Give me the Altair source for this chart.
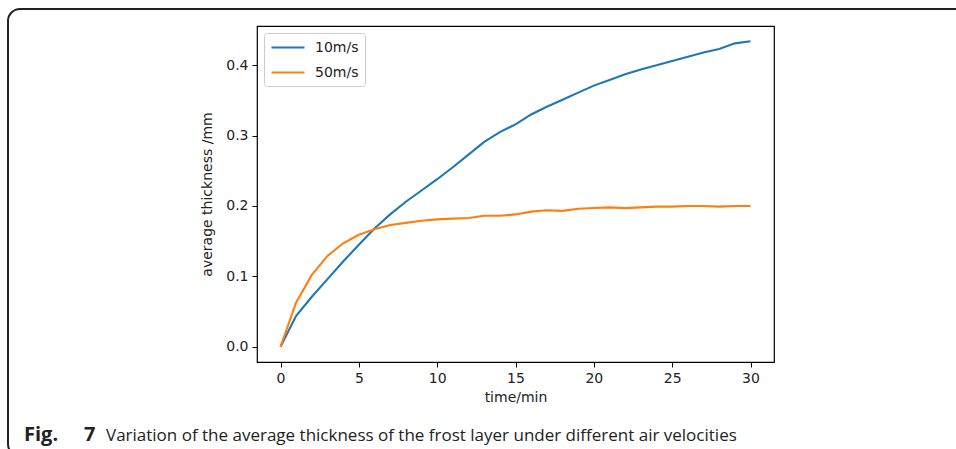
import altair as alt
import pandas as pd

# ---- data ----
time_min = list(range(31))
v10 = [0.000, 0.044, 0.071, 0.096, 0.121, 0.145, 0.168, 0.188, 0.206, 0.222,
       0.238, 0.255, 0.273, 0.291, 0.305, 0.316, 0.330, 0.341, 0.351, 0.361,
       0.371, 0.379, 0.387, 0.394, 0.400, 0.406, 0.412, 0.418, 0.423, 0.431,
       0.434]
v50 = [0.000, 0.063, 0.102, 0.129, 0.147, 0.159, 0.167, 0.173, 0.176, 0.179,
       0.181, 0.182, 0.183, 0.186, 0.186, 0.188, 0.192, 0.194, 0.193, 0.196,
       0.197, 0.198, 0.197, 0.198, 0.199, 0.199, 0.200, 0.200, 0.199, 0.200,
       0.200]
series_names = ["10m/s", "50m/s"]
series_colors = ["#1f77b4", "#ff7f0e"]
x_ticks = [0, 5, 10, 15, 20, 25, 30]
y_ticks = [0.0, 0.1, 0.2, 0.3, 0.4]
x_title = "time/min"
y_title = "average thickness /mm"
caption_label = ["Fig.", "7"]
caption_text = "Variation of the average thickness of the frost layer under different air velocities"

df = pd.DataFrame({
    "time": time_min * 2,
    "thickness": v10 + v50,
    "series": [series_names[0]] * len(v10) + [series_names[1]] * len(v50),
})

W, H = 517, 336
PL, PT = 257, 26

lines = alt.Chart(df).mark_line(strokeWidth=2.1).encode(
    x=alt.X("time:Q",
            scale=alt.Scale(domain=[-1.5, 31.5], nice=False, zero=False),
            axis=alt.Axis(values=x_ticks, title=x_title, format="d",
                          labelPadding=4, titlePadding=5)),
    y=alt.Y("thickness:Q",
            scale=alt.Scale(domain=[-0.0217, 0.4557], nice=False, zero=False),
            axis=alt.Axis(values=y_ticks, title=y_title, format=".1f",
                          labelPadding=4, titlePadding=11)),
    color=alt.Color("series:N",
                    scale=alt.Scale(domain=series_names, range=series_colors),
                    legend=alt.Legend(title=None, orient="none", legendX=7, legendY=7,
                                      symbolType="M-1,0L3.714,0", symbolSize=196,
                                      symbolStrokeWidth=2.1, rowPadding=9,
                                      labelFont="DejaVu Sans", labelFontSize=14,
                                      labelColor="#222", labelOffset=28,
                                      padding=6, strokeColor="#cccccc",
                                      fillColor="white", cornerRadius=3)),
)

frame = alt.Chart(pd.DataFrame({"d": [0]})).mark_rect(
    fillOpacity=0, stroke="#222", strokeWidth=2, cornerRadius=12
).encode(
    x=alt.value(8 - PL), x2=alt.value(980 - PL),
    y=alt.value(9 - PT), y2=alt.value(456 - PT),
)

cap_fig = alt.Chart(pd.DataFrame({"t": [caption_label[0]]})).mark_text(
    align="left", baseline="alphabetic", font="Open Sans", fontWeight="bold",
    fontSize=20, color="#222"
).encode(x=alt.value(24 - PL), y=alt.value(441 - PT), text="t:N")

cap_num = alt.Chart(pd.DataFrame({"t": [caption_label[1]]})).mark_text(
    align="left", baseline="alphabetic", font="Open Sans", fontWeight="bold",
    fontSize=20, color="#222"
).encode(x=alt.value(84 - PL), y=alt.value(441 - PT), text="t:N")

cap2 = alt.Chart(pd.DataFrame({"t": [caption_text]})).mark_text(
    align="left", baseline="alphabetic", font="Open Sans",
    fontSize=17, color="#222"
).encode(x=alt.value(106 - PL), y=alt.value(441 - PT), text="t:N")

chart = alt.layer(frame, lines, cap_fig, cap_num, cap2).properties(
    width=W, height=H,
    autosize=alt.AutoSizeParams(type="none"),
    padding={"left": PL, "top": PT, "right": 956 - PL - W, "bottom": 449 - PT - H},
).configure_view(
    stroke="#000", strokeWidth=1.2
).configure_axis(
    grid=False, domain=False, tickColor="#000", tickSize=5, tickWidth=1,
    labelFont="DejaVu Sans", labelFontSize=14, labelColor="#222",
    titleFont="DejaVu Sans", titleFontSize=14, titleFontWeight="normal",
    titleColor="#222",
)

chart.save("out.html", embed_options={"renderer": "svg", "actions": False})
